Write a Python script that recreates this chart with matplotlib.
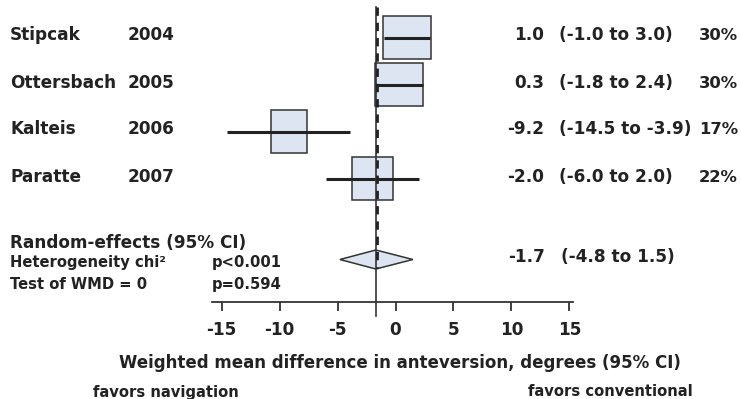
import matplotlib
matplotlib.use("Agg")
import matplotlib.pyplot as plt
import numpy as np
from matplotlib.patches import Rectangle, Polygon
import matplotlib.transforms as mtransforms

# ---------------- data ----------------
studies = ["Stipcak", "Ottersbach", "Kalteis", "Paratte"]
years = ["2004", "2005", "2006", "2007"]
est = [1.0, 0.3, -9.2, -2.0]
ci_lo = [-1.0, -1.8, -14.5, -6.0]
ci_hi = [3.0, 2.4, -3.9, 2.0]
weights = [30, 30, 17, 22]
pooled_est = -1.7
pooled_lo = -4.8
pooled_hi = 1.5
het_p = "p<0.001"
wmd_p = "p=0.594"
xticks = [-15, -10, -5, 0, 5, 10, 15]

# ---------------- style ----------------
W, H = 741, 399
DPI = 100
FONT = "DejaVu Sans"
TXT = "#222222"
FILL = "#dde5f3"
EDGE = "#333333"
FS = 12.2
FS_PCT = 11.8
FS_SMALL = 10.6

plt.rcParams["font.family"] = [FONT]

fig = plt.figure(figsize=(W / DPI, H / DPI), dpi=DPI)

# axes spans plot area in pixel coordinates
ax_left_px, ax_right_px = 212.3, 572.7
ax_bottom_px = 302.0
ax = fig.add_axes([ax_left_px / W, (H - ax_bottom_px) / H,
                   (ax_right_px - ax_left_px) / W, ax_bottom_px / H])
ax.set_xlim(-15.81, 15.29)
ax.set_ylim(ax_bottom_px, 0)  # y in pixel units from top
for s in ["top", "right", "left"]:
    ax.spines[s].set_visible(False)
ax.spines["bottom"].set_linewidth(1.3)
ax.spines["bottom"].set_color(EDGE)
ax.set_yticks([])
ax.set_xticks(xticks)
ax.set_xticklabels([str(t) for t in xticks], fontsize=FS, fontweight="bold", color=TXT)
ax.tick_params(axis="x", direction="out", length=6.2, width=1.3, color=EDGE, pad=7.2)
ax.patch.set_alpha(0)

row_y0 = 37.5
row_step = 47.0
box_h = 43.0
box_k = 0.756
text_dy = 3.0

def fig_xy(xpx, ypx):
    return xpx / W, 1 - ypx / H

for i, (name, yr, e, lo, hi, w) in enumerate(zip(studies, years, est, ci_lo, ci_hi, weights)):
    y = row_y0 + i * row_step
    bw = box_k * np.sqrt(w)
    ax.add_patch(Rectangle((e - bw / 2, y - box_h / 2), bw, box_h,
                           facecolor=FILL, edgecolor=EDGE, linewidth=1.1, zorder=3))
    ax.plot([lo, hi], [y, y], color="#222222", linewidth=2.2, zorder=4,
            solid_capstyle="butt")
    yb = y + text_dy
    fig.text(*fig_xy(10, yb), name, fontsize=FS, fontweight="bold", color=TXT, va="baseline")
    fig.text(*fig_xy(128, yb), yr, fontsize=FS, fontweight="bold", color=TXT, va="baseline")
    fig.text(*fig_xy(544, yb), f"{e:.1f}", fontsize=FS, fontweight="bold", color=TXT,
             va="baseline", ha="right")
    fig.text(*fig_xy(559, yb), f"({lo:.1f} to {hi:.1f})", fontsize=FS, fontweight="bold",
             color=TXT, va="baseline")
    fig.text(*fig_xy(699, yb), f"{w}%", fontsize=FS_PCT, fontweight="bold", color=TXT,
             va="baseline")

# pooled diamond
dy = 259.5
dh = 9.5
ax.add_patch(Polygon([[pooled_lo, dy], [pooled_est, dy - dh], [pooled_hi, dy],
                      [pooled_est, dy + dh]], closed=True, facecolor=FILL,
                     edgecolor=EDGE, linewidth=1.1, zorder=3))

# reference lines
ax.plot([pooled_est, pooled_est], [7, 316], color=EDGE, linewidth=1.2, zorder=5,
        clip_on=False)
off = mtransforms.offset_copy(ax.transData, fig=fig, x=1.6, y=0, units="dots")
ax.plot([pooled_est, pooled_est], [7, 268], color="#222222", linewidth=2.0,
        linestyle=(0, (3.0, 2.5)), zorder=6, transform=off, clip_on=False)

# summary texts
fig.text(*fig_xy(545, 262), f"{pooled_est:.1f}", fontsize=FS, fontweight="bold",
         color=TXT, va="baseline", ha="right")
fig.text(*fig_xy(561, 262), f"({pooled_lo:.1f} to {pooled_hi:.1f})", fontsize=FS,
         fontweight="bold", color=TXT, va="baseline")
fig.text(*fig_xy(10, 247.7), "Random-effects (95% CI)", fontsize=FS, fontweight="bold",
         color=TXT, va="baseline")
fig.text(*fig_xy(10, 266.5), "Heterogeneity chi\u00b2", fontsize=FS_SMALL,
         fontweight="bold", color=TXT, va="baseline")
fig.text(*fig_xy(212, 266.5), het_p, fontsize=FS_SMALL, fontweight="bold",
         color=TXT, va="baseline")
fig.text(*fig_xy(10, 289.3), "Test of WMD = 0", fontsize=FS_SMALL, fontweight="bold",
         color=TXT, va="baseline")
fig.text(*fig_xy(212, 289.3), wmd_p, fontsize=FS_SMALL, fontweight="bold",
         color=TXT, va="baseline")

# axis label and direction labels
fig.text(*fig_xy(399.5, 368), "Weighted mean difference in anteversion, degrees (95% CI)",
         fontsize=12.0, fontweight="bold", color=TXT, va="baseline", ha="center")
fig.text(*fig_xy(166, 396.5), "favors navigation", fontsize=FS_SMALL, fontweight="bold",
         color=TXT, va="baseline", ha="center")
fig.text(*fig_xy(610.5, 396.5), "favors conventional", fontsize=FS_SMALL,
         fontweight="bold", color=TXT, va="baseline", ha="center")

fig.savefig("out.png", dpi=DPI)
